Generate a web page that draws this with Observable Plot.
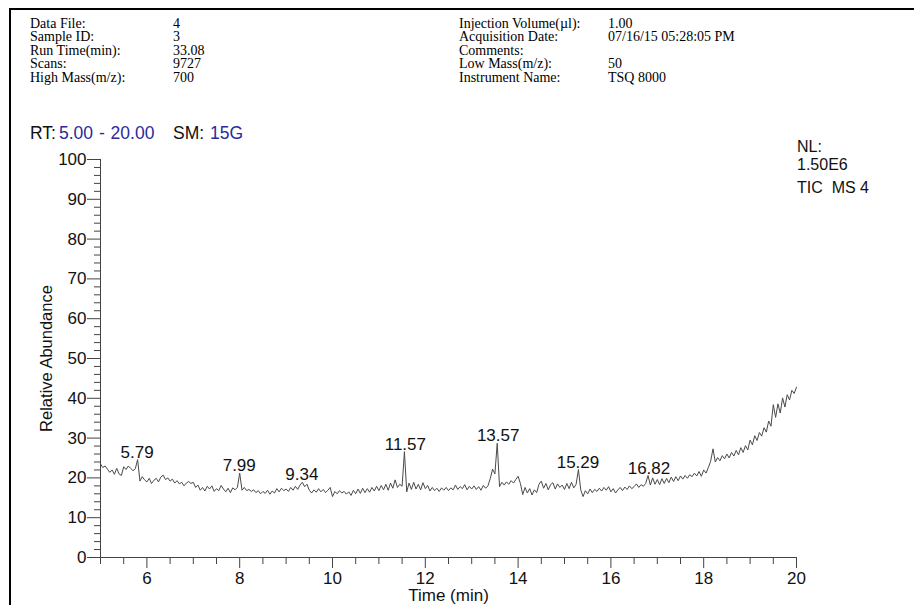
<!DOCTYPE html>
<html>
<head>
<meta charset="utf-8">
<script src="https://cdn.jsdelivr.net/npm/d3@7"></script>
<script src="https://cdn.jsdelivr.net/npm/@observablehq/plot@0.6"></script>
<style>
  html, body { margin: 0; padding: 0; background: #fff; }
  #wrap { position: relative; width: 914px; height: 605px; overflow: hidden; }
  #frameTop { position: absolute; left: 9px; top: 8px; width: 905px; height: 2px; background: #000; }
  #frameLeft { position: absolute; left: 9px; top: 8px; width: 2px; height: 597px; background: #000; }
  .hdr { position: absolute; font-family: "Liberation Serif", "Times New Roman", serif; font-size: 14px; line-height: 13px; color: #000; white-space: pre; }
  .sans { position: absolute; font-family: "Liberation Sans", Arial, sans-serif; font-size: 17.5px; line-height: 16px; color: #111; white-space: pre; }
  .nl { font-size: 16px; line-height: 16px; }
  .blue { color: #2a2a9c; }
  svg { position: absolute; left: 0; top: 0; }
</style>
</head>
<body>
<div id="wrap">
  <div id="frameTop"></div>
  <div id="frameLeft"></div>
</div>
<script>
// ---- header info ----
const headerLeftLabels = ["Data File:", "Sample ID:", "Run Time(min):", "Scans:", "High Mass(m/z):"];
const headerLeftValues = ["4", "3", "33.08", "9727", "700"];
const headerRightLabels = ["Injection Volume(\u00b5l):", "Acquisition Date:", "Comments:", "Low Mass(m/z):", "Instrument Name:"];
const headerRightValues = ["1.00", "07/16/15 05:28:05 PM", "", "50", "TSQ 8000"];

// ---- axis ticks ----
const xMajorTicks = [6, 8, 10, 12, 14, 16, 18, 20];
const xMinorTicks = [5, 5.5, 6.5, 7, 7.5, 8.5, 9, 9.5, 10.5, 11, 11.5, 12.5, 13, 13.5, 14.5, 15, 15.5, 16.5, 17, 17.5, 18.5, 19, 19.5];
const yMajorTicks = [0, 10, 20, 30, 40, 50, 60, 70, 80, 90, 100];
const yMinorTicks = [2, 4, 6, 8, 12, 14, 16, 18, 22, 24, 26, 28, 32, 34, 36, 38, 42, 44, 46, 48, 52, 54, 56, 58, 62, 64, 66, 68, 72, 74, 76, 78, 82, 84, 86, 88, 92, 94, 96, 98];

// ---- trace: scans every 0.05 min from 5.00 to 20.00 ----
const scanStart = 5.0;
const scanStep = 0.05;
const abundance = [
  // 5.00 - 5.95
  23.5, 22.6, 23.0, 22.2, 21.4, 22.0, 20.9, 22.4, 21.0, 20.6, 22.8, 22.1, 23.0, 22.4, 21.8, 22.3, 24.6, 19.2, 20.3, 19.5,
  // 6.00 - 6.95
  19.0, 19.9, 18.6, 19.4, 19.9, 19.0, 20.2, 20.7, 19.6, 20.0, 19.2, 19.7, 18.7, 19.3, 18.5, 18.9, 18.0, 18.7, 19.1, 18.6,
  // 7.00 - 7.95
  18.9, 17.6, 18.2, 16.9, 17.6, 16.7, 17.9, 17.2, 18.0, 16.6, 17.3, 16.8, 18.1, 17.2, 16.5, 17.4, 16.3, 17.5, 17.0, 17.6,
  // 8.00 - 8.95
  21.2, 16.9, 17.6, 16.8, 17.1, 16.6, 17.0, 16.3, 16.8, 16.0, 16.6, 16.1, 16.9, 15.9, 16.7, 16.2, 17.3, 16.5, 17.4, 16.8,
  // 9.00 - 9.95
  17.2, 16.6, 17.6, 16.9, 17.9, 17.1, 18.2, 18.9, 17.8, 18.4, 16.9, 16.2, 17.0, 16.4, 17.3, 16.5, 17.1, 16.3, 16.9, 17.6,
  // 10.00 - 10.95
  15.3, 16.6, 16.0, 16.8, 16.2, 16.6, 15.9, 16.5, 15.6, 16.9, 16.0, 17.2, 16.1, 17.4, 16.3, 17.3, 16.4, 17.6, 16.7, 17.9,
  // 11.00 - 11.95
  16.8, 18.1, 17.0, 18.4, 16.9, 18.7, 17.4, 19.5, 17.6, 18.4, 17.9, 26.6, 16.5, 18.7, 17.1, 18.9, 17.2, 18.4, 17.0, 18.8,
  // 12.00 - 12.95
  17.3, 18.1, 16.7, 17.6, 16.8, 17.4, 16.6, 17.5, 16.9, 17.6, 16.8, 17.5, 17.0, 18.2, 17.1, 17.8, 17.3, 18.3, 17.0, 17.9,
  // 13.00 - 13.95
  17.2, 18.0, 17.1, 17.8, 16.9, 18.1, 17.4, 18.0, 19.8, 22.2, 21.0, 28.7, 17.8, 18.9, 18.2, 19.0, 18.4, 19.3, 18.7, 19.6,
  // 14.00 - 14.95
  20.4, 18.6, 15.8, 17.6, 16.2, 17.3, 15.7, 17.0, 16.3, 18.4, 19.2, 17.4, 18.6, 17.0, 18.3, 18.8, 17.2, 18.5, 17.6, 18.2,
  // 15.00 - 15.95
  17.1, 18.6, 17.3, 18.9, 17.5, 18.4, 22.1, 17.0, 15.3, 16.8, 16.0, 17.2, 16.3, 17.1, 16.6, 17.4, 16.7, 17.6, 16.9, 17.8,
  // 16.00 - 16.95
  16.5, 17.3, 16.2, 17.0, 17.6, 16.8, 17.7, 17.1, 18.0, 17.3, 17.8, 18.5, 17.6, 18.3, 17.9, 18.6, 20.6, 18.2, 20.0, 18.4,
  // 17.00 - 17.95
  19.6, 18.3, 19.8, 18.6, 19.9, 18.8, 20.2, 19.1, 20.3, 19.3, 20.5, 19.7, 20.6, 19.9, 20.8, 20.3, 21.2, 20.5, 21.6, 20.4,
  // 18.00 - 18.95
  22.0, 21.2, 22.6, 24.2, 27.3, 24.0, 25.1, 24.3, 25.6, 24.8, 26.0, 25.0, 26.4, 25.5, 26.9, 25.8, 27.6, 26.4, 28.1, 27.0,
  // 19.00 - 19.95
  29.5, 28.3, 30.6, 29.4, 31.4, 30.5, 32.6, 31.5, 34.3, 33.0, 38.4, 35.2, 38.6, 36.3, 40.1, 37.8, 40.9, 39.6, 42.0, 41.2,
  // 20.00
  42.8
];

// ---- labelled peaks ----
const peakTimes = [5.79, 7.99, 9.34, 11.57, 13.57, 15.29, 16.82];
const peakApex = [24.6, 21.2, 18.9, 26.6, 28.7, 22.1, 20.6];
const peakLabels = ["5.79", "7.99", "9.34", "11.57", "13.57", "15.29", "16.82"];

const trace = abundance.map((v, i) => ({t: scanStart + i * scanStep, v}));
const peaks = peakTimes.map((t, i) => ({t, v: peakApex[i], label: peakLabels[i]}));

const wrap = document.getElementById("wrap");

const chart = Plot.plot({
  width: 914,
  height: 605,
  marginLeft: 100,
  marginRight: 118,
  marginTop: 159,
  marginBottom: 48,
  x: {domain: [5, 20]},
  y: {domain: [0, 100]},
  style: {fontFamily: "'Liberation Sans', Arial, sans-serif", fontSize: "17px", background: "transparent", color: "#111"},
  marks: [
    Plot.ruleX([5], {stroke: "#444", strokeWidth: 1}),
    Plot.ruleY([0], {stroke: "#444", strokeWidth: 1}),
    Plot.axisX({ticks: xMinorTicks, tickSize: 7, tickFormat: () => "", stroke: "#444", label: null}),
    Plot.axisX({ticks: xMajorTicks, tickSize: 11, tickPadding: 3, stroke: "#444", fill: "#111", label: null, fontSize: 17}),
    Plot.axisY({ticks: yMinorTicks, tickSize: 6, tickFormat: () => "", stroke: "#444", label: null}),
    Plot.axisY({ticks: yMajorTicks, tickSize: 13, tickPadding: 1, stroke: "#444", fill: "#111", label: null, fontSize: 17}),
    Plot.line(trace, {x: "t", y: "v", stroke: "#4a4a4a", strokeWidth: 1}),
    Plot.text(peaks, {x: "t", y: "v", text: "label", lineAnchor: "bottom", dy: -2, fill: "#111", fontSize: 17}),
    Plot.text(["Time (min)"], {frameAnchor: "bottom", lineAnchor: "middle", textAnchor: "middle", dy: 38, fontSize: 17, fill: "#111"}),
    Plot.text(["Relative Abundance"], {frameAnchor: "left", rotate: -90, textAnchor: "middle", lineAnchor: "middle", dx: -54, fontSize: 16.5, fill: "#111"})
  ]
});
wrap.appendChild(chart);

// header rows (centres ~23, 36.5, 50, 63.5, 77)
const rowTops = [16.5, 30, 43.5, 57, 70.5];
function addDiv(cls, left, top, html) {
  const d = document.createElement("div");
  d.className = cls;
  d.style.left = left + "px";
  d.style.top = top + "px";
  d.innerHTML = html;
  wrap.appendChild(d);
  return d;
}
headerLeftLabels.forEach((s, i) => addDiv("hdr", 30, rowTops[i], s));
headerLeftValues.forEach((s, i) => addDiv("hdr", 173, rowTops[i], s));
headerRightLabels.forEach((s, i) => addDiv("hdr", 459, rowTops[i], s));
headerRightValues.forEach((s, i) => addDiv("hdr", 608, rowTops[i], s));

addDiv("sans", 30, 125, "RT:");
addDiv("sans blue", 59, 125, "5.00 - 20.00").style.wordSpacing = "1px";
addDiv("sans", 173, 125, "SM:");
addDiv("sans blue", 210, 125, "15G");
addDiv("sans nl", 797, 139, "NL:");
addDiv("sans nl", 797, 157, "1.50E6");
addDiv("sans nl", 797, 180, "TIC  MS 4");
</script>
</body>
</html>
